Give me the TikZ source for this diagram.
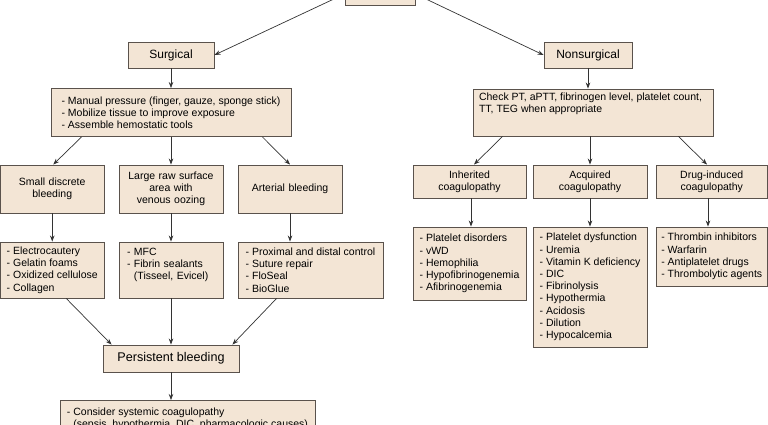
\documentclass[tikz,border=0pt]{standalone}
\usepackage{fontspec}
\setmainfont{Liberation Sans}
\usetikzlibrary{arrows.meta}
\definecolor{boxfill}{HTML}{F3E5D5}
\definecolor{boxline}{HTML}{5A524C}
\definecolor{arrline}{HTML}{333333}
\tikzset{
  box/.style={draw=boxline, fill=boxfill, line width=0.9pt, inner sep=0pt,
    font=\fontsize{10.5}{12.2}\selectfont},
  head/.style={box, font=\fontsize{12}{14}\selectfont},
  lbox/.style={box, align=left},
  cbox/.style={box, align=center, text width=#1},
  arr/.style={draw=arrline, line width=0.7pt, -{Stealth[length=6pt,width=4.5pt]}}
}
\newcommand{\hang}{\phantom{- }}
\begin{document}
\begin{tikzpicture}[x=1pt,y=-1pt]
\useasboundingbox (0,0) rectangle (768,425);
\clip (0,0) rectangle (768,425);

% top
\node[box, minimum width=70pt, minimum height=22pt] (top) at (380,-6) {};
\node[head, minimum width=86pt, minimum height=26pt] (surg) at (171,55) {Surgical};
\node[head, minimum width=88pt, minimum height=26pt] (nons) at (588,55) {Nonsurgical};

% second level
\node[lbox, minimum width=240pt, minimum height=48pt] (manual) at (171,112.5)
  {- Manual pressure (finger, gauze, sponge stick)\\- Mobilize tissue to improve exposure\\- Assemble hemostatic tools};
\node[box, minimum width=240pt, minimum height=47pt] (check) at (593,112.5)
  {\parbox[c][39pt][t]{228pt}{Check PT, aPTT, fibrinogen level, platelet count,\\TT, TEG when appropriate}};

% surgical branches
\node[cbox=100pt, minimum width=103.5pt, minimum height=48pt] (small) at (52.25,189)
  {Small discrete\\bleeding};
\node[cbox=100pt, minimum width=104pt, minimum height=48pt] (large) at (171,189)
  {Large raw surface\\area with\\venous oozing};
\node[cbox=100pt, minimum width=104pt, minimum height=48pt] (arter) at (290,189)
  {Arterial bleeding};

\node[lbox, minimum width=103.5pt, minimum height=56pt] (electro) at (52.25,270)
  {- Electrocautery\\- Gelatin foams\\- Oxidized cellulose\\- Collagen};
\node[lbox, text width=88pt, minimum width=104pt, minimum height=56pt] (mfc) at (171,270)
  {- MFC\\- Fibrin sealants\\\hang(Tisseel, Evicel)\\\mbox{}};
\node[lbox, minimum width=145pt, minimum height=56pt] (prox) at (310.5,270)
  {- Proximal and distal control\\- Suture repair\\- FloSeal\\- BioGlue};

\node[head, minimum width=136pt, minimum height=27pt, font=\fontsize{12.6}{14}\selectfont] (persist) at (171,358.5)
  {Persistent bleeding};
\node[box, anchor=north west, minimum width=255pt, minimum height=45pt] (consider) at (60,400)
  {\parbox[c][45pt][t]{242pt}{\vspace{7pt}- Consider systemic coagulopathy\\\hang(sepsis, hypothermia, DIC, pharmacologic causes)}};

% nonsurgical branches
\node[cbox=110pt, minimum width=113pt, minimum height=33pt] (inh) at (469.5,181.5)
  {Inherited\\coagulopathy};
\node[cbox=110pt, minimum width=114pt, minimum height=33pt] (acq) at (590,181.5)
  {Acquired\\coagulopathy};
\node[cbox=108pt, minimum width=111.5pt, minimum height=33pt] (drug) at (711.75,181.5)
  {Drug-induced\\coagulopathy};

\node[lbox, minimum width=113pt, minimum height=73pt] (plat) at (469.5,263.5)
  {- Platelet disorders\\- vWD\\- Hemophilia\\- Hypofibrinogenemia\\- Afibrinogenemia};
\node[lbox, minimum width=114pt, minimum height=120pt] (pdys) at (590,287)
  {- Platelet dysfunction\\- Uremia\\- Vitamin K deficiency\\- DIC\\- Fibrinolysis\\- Hypothermia\\- Acidosis\\- Dilution\\- Hypocalcemia};
\node[lbox, minimum width=111.5pt, minimum height=59pt] (thromb) at (711.75,256.5)
  {- Thrombin inhibitors\\- Warfarin\\- Antiplatelet drugs\\- Thrombolytic agents};

% connectors
\draw[arr] (top.west) -- (surg.east);
\draw[arr] (top.east) -- (nons.west);
\draw[arr] (surg.south) -- (manual.north);
\draw[arr] (nons.south) -- (nons.south |- check.north);

\draw[arr] ([xshift=31pt]manual.south west) -- ([xshift=1pt]small.north);
\draw[arr] (manual.south) -- (large.north);
\draw[arr] ([xshift=-29pt]manual.south east) -- (arter.north);

\draw[arr] ([xshift=30pt]check.south west) -- ([xshift=4.5pt]inh.north);
\draw[arr] (acq.north |- check.south) -- (acq.north);
\draw[arr] ([xshift=-35pt]check.south east) -- ([xshift=-4.75pt]drug.north);

\draw[arr] (small.south) -- (electro.north);
\draw[arr] (large.south) -- (mfc.north);
\draw[arr] (arter.south) -- (arter.south |- prox.north);

\draw[arr] ([xshift=1.5pt]inh.south) -- ([xshift=1.5pt]plat.north);
\draw[arr] (acq.south) -- (pdys.north);
\draw[arr] ([xshift=-3.75pt]drug.south) -- ([xshift=-3.75pt]thromb.north);

\draw[arr] ([xshift=14pt]electro.south) -- ([xshift=9pt]persist.north west);
\draw[arr] (mfc.south) -- (persist.north);
\draw[arr] ([xshift=39pt]prox.south west) -- ([xshift=-7pt]persist.north east);
\draw[arr] (persist.south) -- (persist.south |- consider.north);
\end{tikzpicture}
\end{document}
